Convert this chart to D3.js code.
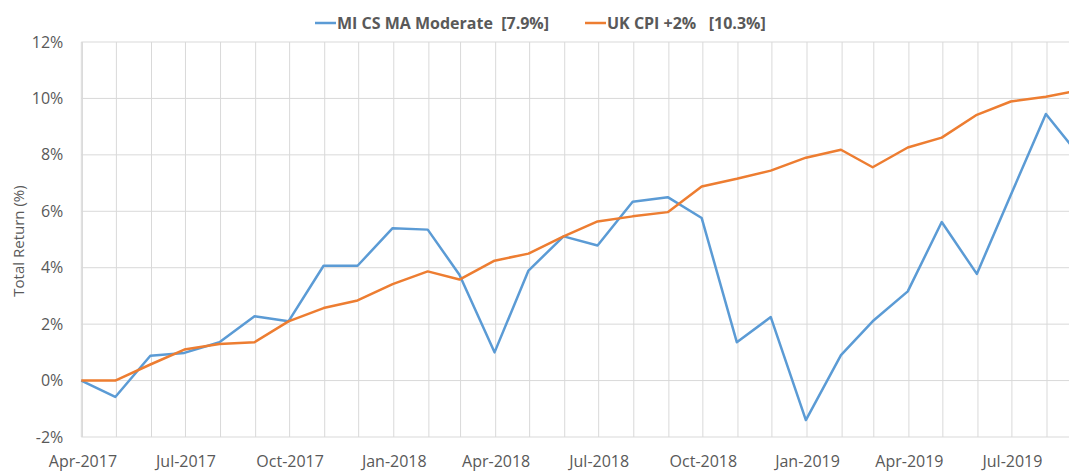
<!DOCTYPE html>
<html>
<head>
<meta charset="utf-8">
<script src="https://cdn.jsdelivr.net/npm/d3@7"></script>
<style>
  body { margin: 0; background: #fff; overflow: hidden; }
  text { font-family: "Open Sans", sans-serif; fill: #595959; }
</style>
</head>
<body>
<div id="chart"></div>
<script>
// month-end dates of the series
var dates = ["2017-03-31","2017-04-30","2017-05-31","2017-06-30","2017-07-31","2017-08-31",
  "2017-09-30","2017-10-31","2017-11-30","2017-12-31","2018-01-31","2018-02-28",
  "2018-03-31","2018-04-30","2018-05-31","2018-06-30","2018-07-31","2018-08-31",
  "2018-09-30","2018-10-31","2018-11-30","2018-12-31","2019-01-31","2019-02-28",
  "2019-03-31","2019-04-30","2019-05-31","2019-06-30","2019-07-31","2019-08-31"];

var fund = [0, -0.58, 0.88, 0.98, 1.36, 2.28, 2.10, 4.07, 4.07, 5.40, 5.35, 3.75,
  1.00, 3.90, 5.11, 4.79, 6.34, 6.50, 5.76, 1.36, 2.25, -1.40, 0.90, 2.10,
  3.16, 5.62, 3.78, 6.58, 9.45, 7.90];

var cpi = [0, 0, 0.57, 1.10, 1.30, 1.36, 2.10, 2.57, 2.84, 3.42, 3.87, 3.58,
  4.25, 4.50, 5.11, 5.64, 5.82, 5.97, 6.88, 7.15, 7.44, 7.90, 8.18, 7.56,
  8.26, 8.61, 9.42, 9.89, 10.06, 10.30];

var seriesNames = ["MI CS MA Moderate  [7.9%]", "UK CPI +2%   [10.3%]"];
var colors = ["#5b9bd5", "#ed7d31"];
var yTicks = [-2, 0, 2, 4, 6, 8, 10, 12];

// dimensions
var margin = {top: 42, left: 81.3},
    width = 1011,
    height = 395;

var svg = d3.select("#chart")
  .append("svg")
    .attr("width", 1069)
    .attr("height", 471);

var g = svg.append("g")
    .attr("transform", "translate(" + margin.left + "," + margin.top + ")");

var parse = d3.timeParse("%Y-%m-%d");
var x = d3.scaleTime()
  .domain([parse(dates[0]), parse("2019-09-10")])
  .range([0, width]);

var y = d3.scaleLinear()
  .domain([-2, 12])
  .range([height, 0]);

// gridlines
g.selectAll(".hgrid")
  .data(yTicks)
  .enter().append("line")
    .attr("x1", 0).attr("x2", width)
    .attr("y1", function(d) { return y(d); })
    .attr("y2", function(d) { return y(d); })
    .attr("stroke", "#d9d9d9")
    .attr("stroke-width", 1);

var months = d3.timeMonth.range(d3.timeMonth.ceil(x.domain()[0]), x.domain()[1]);
g.selectAll(".vgrid")
  .data(months)
  .enter().append("line")
    .attr("x1", function(d) { return x(d); })
    .attr("x2", function(d) { return x(d); })
    .attr("y1", 0).attr("y2", height)
    .attr("stroke", "#d9d9d9")
    .attr("stroke-width", 1);

g.append("line")
  .attr("x1", 0).attr("x2", 0)
  .attr("y1", 0).attr("y2", height)
  .attr("stroke", "#d9d9d9");

// Y axis labels
var yAxis = g.append("g")
  .call(d3.axisLeft(y).tickValues(yTicks).tickFormat(function(d) { return d + "%"; }).tickSize(0).tickPadding(18));
yAxis.select(".domain").remove();
yAxis.selectAll("text").style("font-size", "16px").attr("fill", "#595959");

svg.append("text")
  .attr("transform", "translate(24,241) rotate(-90)")
  .style("text-anchor", "middle")
  .style("font-size", "15px")
  .text("Total Return (%)");

// X axis labels
var xAxis = g.append("g")
  .attr("transform", "translate(0," + height + ")")
  .call(d3.axisBottom(x).ticks(d3.timeMonth.every(3)).tickFormat(d3.timeFormat("%b-%Y")).tickSize(0).tickPadding(19));
xAxis.select(".domain").remove();
xAxis.selectAll("text").style("font-size", "16px").attr("fill", "#595959");

// lines
var line = d3.line()
  .x(function(d, i) { return x(parse(dates[i])); })
  .y(function(d) { return y(d); });

[fund, cpi].forEach(function(s, i) {
  g.append("path")
    .datum(s)
    .attr("fill", "none")
    .attr("stroke", colors[i])
    .attr("stroke-width", 2.5)
    .attr("stroke-linejoin", "round")
    .attr("d", line);
});

// legend
var legendX = [315, 585];
seriesNames.forEach(function(name, i) {
  svg.append("line")
    .attr("x1", legendX[i]).attr("x2", legendX[i] + 21)
    .attr("y1", 23).attr("y2", 23)
    .attr("stroke", colors[i])
    .attr("stroke-width", 2.5);
  svg.append("text")
    .attr("x", legendX[i] + 22)
    .attr("y", 29)
    .attr("xml:space", "preserve")
    .style("white-space", "pre")
    .style("font-size", "16px")
    .style("font-weight", "bold")
    .text(name);
});
</script>
</body>
</html>
